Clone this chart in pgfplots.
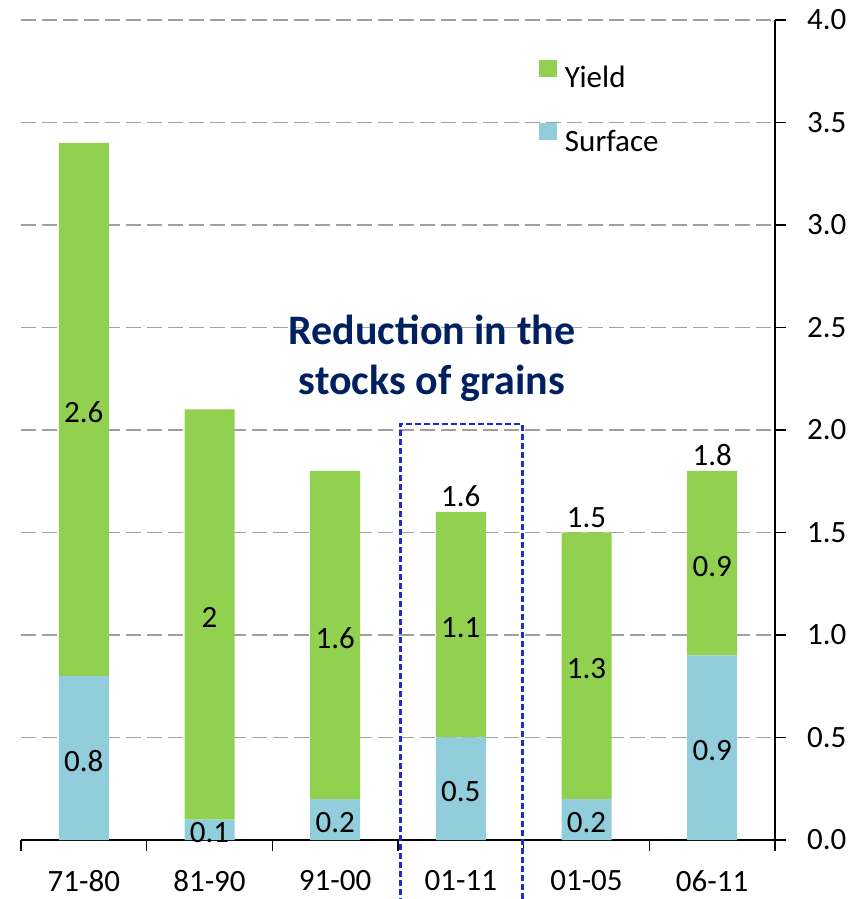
\documentclass[border=0pt]{standalone}
\usepackage{fontspec}
\setmainfont{Carlito}
\usepackage{pgfplots}
\pgfplotsset{compat=1.18}
\definecolor{cyield}{HTML}{92D050}
\definecolor{csurf}{HTML}{92CDDC}
\definecolor{cgrid}{HTML}{A0A0A0}
\definecolor{cnavy}{HTML}{002060}
\definecolor{cbox}{HTML}{1C2BD6}
\newcommand\fs{\fontsize{31}{37}\selectfont}
\pgfplotsset{sqlegend/.style={legend image code/.code={\fill[##1] (0pt,1pt) rectangle (18pt,18pt);}}}

\begin{document}
\begin{tikzpicture}
\path[use as bounding box] (0,0) rectangle (859pt,899pt);
\begin{axis}[
    at={(21pt,59pt)}, anchor=south west,
    scale only axis, width=754pt, height=820pt,
    xmin=-0.5, xmax=5.5, ymin=0, ymax=4,
    ybar stacked, bar width=50pt,
    axis x line*=bottom, axis y line*=right,
    axis line style={line width=1.6pt},
    tick style={line width=1.6pt, black},
    tick align=outside, major tick length=11pt,
    xtick={-0.5,0.5,...,5.5},
    xticklabels={71-80,81-90,91-00,01-11,01-05,06-11,{}},
    xticklabel style={font=\fs, inner sep=0pt, anchor=north, xshift=62.83pt, yshift=-19pt},
    ytick={0,0.5,...,4},
    yticklabel style={font=\fs, inner sep=0pt, anchor=west, xshift=21pt,
        /pgf/number format/.cd, fixed, fixed zerofill, precision=1},
    /pgf/number format/assume math mode=true,
    ymajorgrids,
    grid style={cgrid, line width=1.8pt, dash pattern=on 15pt off 6pt},
    nodes near coords,
    every node near coord/.append style={font=\fs, inner sep=0pt, anchor=center, yshift=-3pt},
    legend style={draw=none, fill=none, inner sep=0pt, outer sep=0pt,
        row sep=34pt, column sep=8pt, font=\fs,
        at={(rel axis cs:0.687,0.9513)}, anchor=north west,
        nodes={inner sep=0pt}},
    legend cell align=left,
    reverse legend,
    clip=false,
]
\addplot[fill=csurf, draw=none, sqlegend] coordinates {
    (0,0.8) (1,0.1) (2,0.2) (3,0.5) (4,0.2) (5,0.9)
};
\addlegendentry{Surface}
\addplot[fill=cyield, draw=none, sqlegend] coordinates {
    (0,2.6) (1,2.0) (2,1.6) (3,1.1) (4,1.3) (5,0.9)
};
\addlegendentry{Yield}

% totals above the last three bars
\node[font=\fs, inner sep=0pt, anchor=south, yshift=5pt] at (axis cs:3,1.6) {1.6};
\node[font=\fs, inner sep=0pt, anchor=south, yshift=5pt] at (axis cs:4,1.5) {1.5};
\node[font=\fs, inner sep=0pt, anchor=south, yshift=5pt] at (axis cs:5,1.8) {1.8};

% highlighted period
\draw[cbox, line width=2.2pt, dash pattern=on 6pt off 3pt]
    (axis cs:2.52,-0.4) rectangle (axis cs:3.49,2.03);
\node[font=\fontsize{42}{49.5}\selectfont\bfseries, text=cnavy, align=center,
    inner sep=0pt, anchor=north] at (axis cs:2.77,2.561)
    {Reduction in the\\stocks of grains};
\end{axis}
\end{tikzpicture}
\end{document}
